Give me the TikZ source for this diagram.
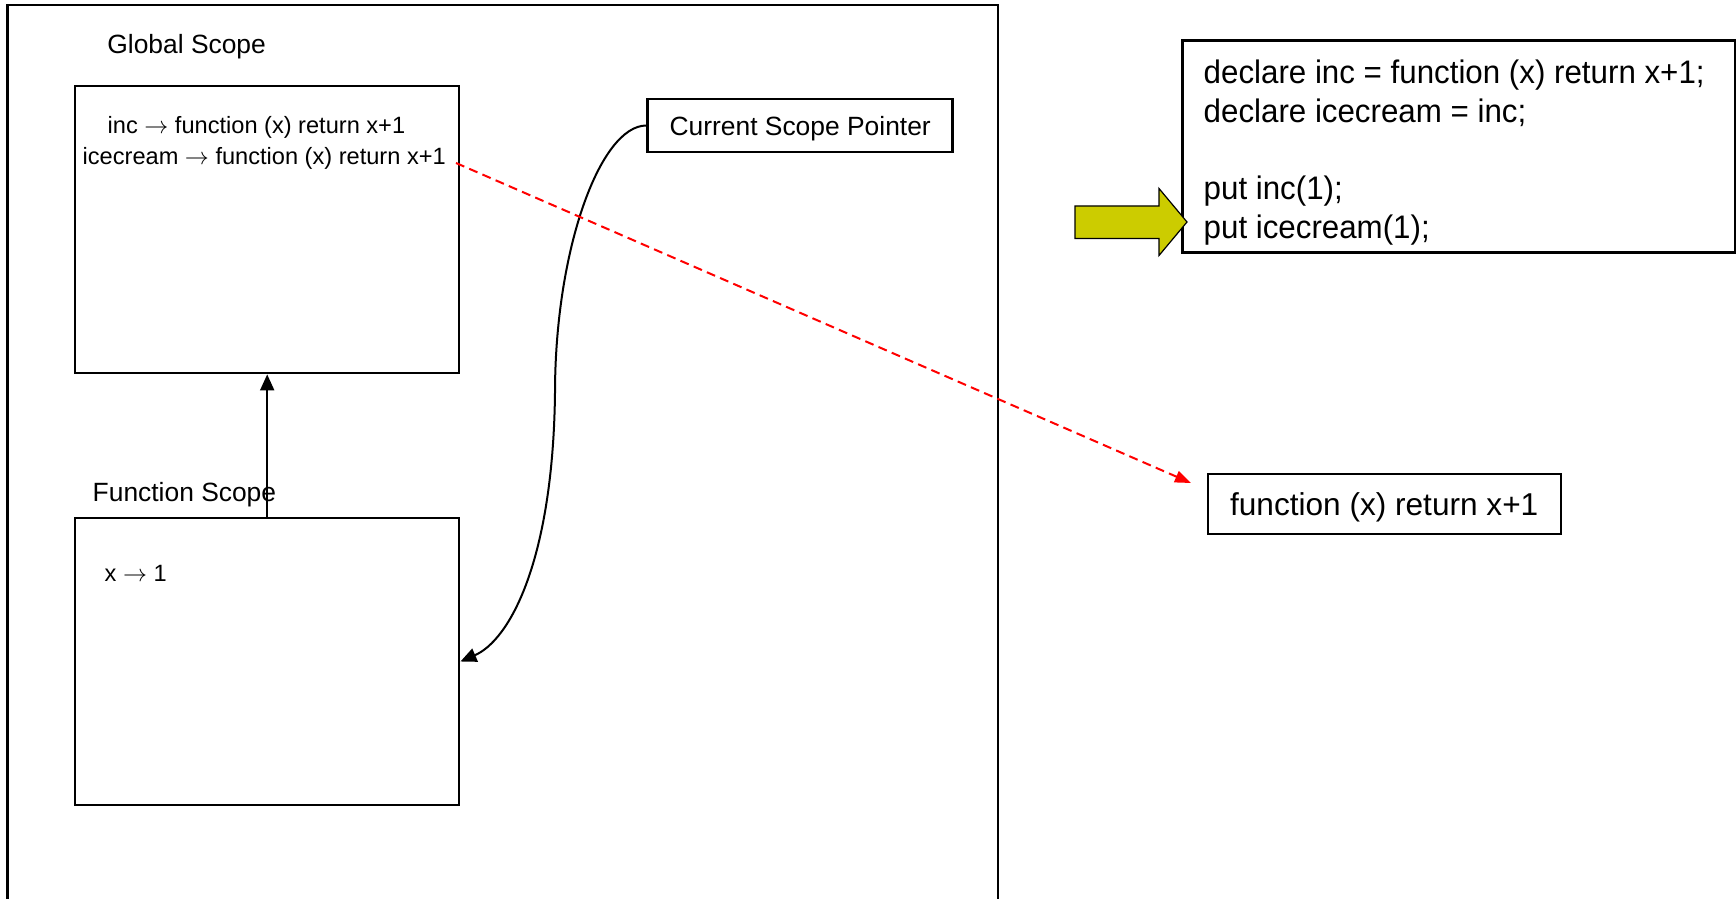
\documentclass[tikz,border=0pt]{standalone}
\usepackage{fontspec}
\setmainfont{Liberation Sans}
\newfontfamily\codefont[FakeStretch=0.96]{Liberation Sans}
\usetikzlibrary{arrows.meta}

\definecolor{arrowyellow}{RGB}{204,204,0}
\definecolor{refred}{RGB}{255,0,0}

\tikzset{
  scopebox/.style={draw, line width=1.1pt, inner sep=0pt,
    minimum width=192.15pt, minimum height=143.8pt},
  tagbox/.style={draw, line width=1.4pt, inner sep=0pt, text depth=0pt},
  label text/.style={anchor=base west, inner sep=0pt,
    font=\fontsize{13.2pt}{15pt}\selectfont},
  binding/.style={anchor=base west, inner sep=0pt,
    font=\fontsize{11.8pt}{14pt}\selectfont},
  codeline/.style={anchor=base west, inner sep=0pt,
    font=\codefont\fontsize{16.3pt}{19.3pt}\selectfont},
  ptr/.style={line width=1pt, -{Triangle[length=8pt,width=7pt]}},
  refline/.style={draw=refred, line width=1pt, dash pattern=on 4.5pt off 2.7pt,
    -{Triangle[length=8pt,width=6pt]}, color=refred},
}

\begin{document}
\begin{tikzpicture}[x=0.5pt,y=-0.5pt]
  \useasboundingbox (0,0) rectangle (1736,899);
  \clip (0,0) rectangle (1736,899);

  % outer frame (runs past the bottom edge)
  \node[draw, line width=1.2pt, inner sep=0pt, minimum width=495.25pt,
        minimum height=462.5pt] (frame) at (502.75,467.5) {};

  % scopes
  \node[label text] (glabel) at (107,54) {Global Scope};
  \node[scopebox] (gscope) at (267.2,229.5) {};
  \node[binding] (incbind) at (107.3,133.3) {inc $\rightarrow$ function (x) return x+1};
  \node[binding] (icebind) at (82.3,165) {icecream $\rightarrow$ function (x) return x+1};

  \node[label text] (flabel) at (92.3,501.7) {Function Scope};
  \node[scopebox] (fscope) at (267.2,661.5) {};
  \node[binding] (xbind) at (104.3,581) {x $\rightarrow$ 1};

  % current scope pointer
  \node[tagbox, minimum width=152.5pt, minimum height=26.5pt,
        font=\fontsize{13.2pt}{15pt}\selectfont] (csp) at (800.2,125.5)
        {Current Scope Pointer};

  % function value
  \node[tagbox, line width=1.1pt, minimum width=176.5pt, minimum height=30pt,
        font=\fontsize{15.8pt}{18pt}\selectfont] (fval) at (1384.2,504.3)
        {function (x) return x+1};

  % program listing
  \node[tagbox, minimum width=276.35pt, minimum height=105.9pt] (code) at (1458.7,146.4) {};
  \node[codeline] (code1) at (1203.3,84) {declare inc = function (x) return x+1;};
  \node[codeline] (code2) at (1203.3,122.6) {declare icecream = inc;};
  \node[codeline] (code3) at (1203.3,199.8) {put inc(1);};
  \node[codeline] (code4) at (1203.3,238.4) {put icecream(1);};

  % current-statement marker
  \draw[line width=0.6pt, fill=arrowyellow]
    (1075,206) -- (1159,206) -- (1159,188.5) -- (1187,222)
    -- (1159,255.5) -- (1159,238.5) -- (1075,238.5) -- cycle;

  % parent link
  \draw[ptr] (fscope.north) -- (gscope.south);

  % pointer to the active scope
  \coordinate (bend) at (555,393);
  \draw[ptr] (csp.west) .. controls (600,125.7) and (555,250) .. (bend)
    .. controls (553,560) and (510,640) .. (fscope.east);

  % binding refers to the function value
  \coordinate (refstart) at (456,163);
  \coordinate (refend) at (1191,483);
  \draw[refline] (refstart) -- (refend);
\end{tikzpicture}
\end{document}
